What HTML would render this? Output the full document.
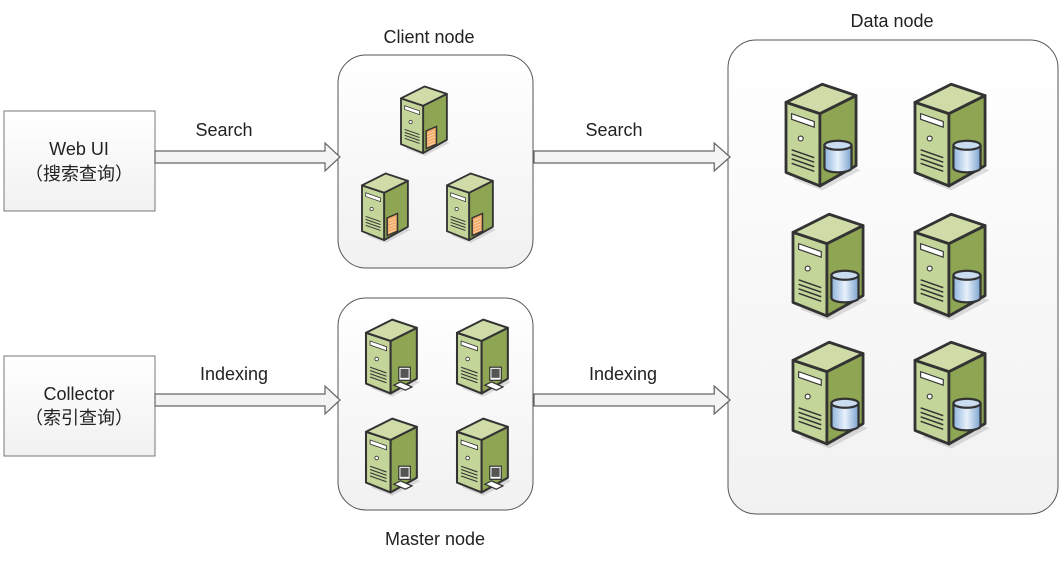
<!DOCTYPE html>
<html><head><meta charset="utf-8"><style>
html,body{margin:0;padding:0;background:#fff;}
svg{display:block;}
text{font-family:"Liberation Sans","Noto Sans CJK SC",sans-serif;font-size:18px;fill:#222;}
</style></head><body>
<svg width="1064" height="567" viewBox="0 0 1064 567" xmlns="http://www.w3.org/2000/svg">
<defs>
<linearGradient id="bg" x1="0" y1="0" x2="0" y2="1"><stop offset="0" stop-color="#ffffff"/><stop offset="1" stop-color="#f1f1f1"/></linearGradient>
<linearGradient id="cyl" x1="0" y1="0" x2="1" y2="0"><stop offset="0" stop-color="#8fb4dc"/><stop offset="0.5" stop-color="#e8f1fb"/><stop offset="1" stop-color="#7aa3cf"/></linearGradient>
<g id="srv">
<polygon points="6,86 32,96 66,78 40,68" fill="#000" opacity="0.12"/>
<polygon points="0,18 30,28 30,92 0,80" fill="#c4d59a" stroke="#333" stroke-width="2.5" stroke-linejoin="round"/>
<polygon points="30,28 62,12 62,74 30,92" fill="#8ea653" stroke="#333" stroke-width="2.5" stroke-linejoin="round"/>
<polygon points="0,18 32,2 62,12 30,28" fill="#cfdca8" stroke="#333" stroke-width="2.5" stroke-linejoin="round"/>
<polygon points="5,28 25,35 25,40 5,33" fill="#fff" stroke="#333" stroke-width="1"/>
<circle cx="13" cy="50" r="2.2" fill="#fff" stroke="#333"/>
<path d="M5,60 L25,67 M5,64 L25,71 M5,68 L25,75 M5,72 L25,79" stroke="#333" stroke-width="1.3"/>
</g>
<g id="db">
<path d="M0,4 L0,24 A12,4 0 0 0 24,24 L24,4" fill="url(#cyl)" stroke="#333" stroke-width="2"/>
<ellipse cx="12" cy="4" rx="12" ry="4" fill="#c9dcf0" stroke="#333" stroke-width="2"/>
</g>
<g id="fw">
<polygon points="0,6 14,0 14,24 0,30" fill="#f5a864" stroke="#333" stroke-width="2"/>
<path d="M2,10 L12,6 M2,14 L12,10 M2,18 L12,14 M2,22 L12,18 M2,26 L12,22" stroke="#fbd9b5" stroke-width="1.2"/>
</g>
<g id="pc">
<polygon points="0,26 14,32 22,28 8,22" fill="#fff" stroke="#333" stroke-width="1.5"/>
<rect x="6" y="4" width="14" height="16" fill="#fff" stroke="#333" stroke-width="1.5"/>
<rect x="8" y="6" width="10" height="11" fill="#555"/>
</g>
<g id="arr">
<polygon points="0,-6 170,-6 170,-14 185,0 170,14 170,6 0,6" fill="#f4f4f4" stroke="#666" stroke-width="1.2"/>
</g>
</defs>

<rect x="4" y="111" width="151" height="100" fill="url(#bg)" stroke="#777"/>
<text x="79" y="155" text-anchor="middle">Web UI</text>
<text x="79" y="180" text-anchor="middle">（搜索查询）</text>
<rect x="4" y="356" width="151" height="100" fill="url(#bg)" stroke="#777"/>
<text x="79" y="400" text-anchor="middle">Collector</text>
<text x="79" y="424" text-anchor="middle">（索引查询）</text>

<rect x="338" y="55" width="195" height="213" rx="28" fill="url(#bg)" stroke="#555"/>
<rect x="338" y="298" width="195" height="212" rx="28" fill="url(#bg)" stroke="#555"/>
<rect x="728" y="40" width="330" height="474" rx="28" fill="url(#bg)" stroke="#555"/>
<text x="429" y="43" text-anchor="middle">Client node</text>
<text x="435" y="545" text-anchor="middle">Master node</text>
<text x="892" y="27" text-anchor="middle">Data node</text>

<use href="#arr" transform="translate(155,157)"/>
<use href="#arr" transform="translate(155,400)"/>
<use href="#arr" transform="translate(534,157) scale(1.06,1)"/>
<use href="#arr" transform="translate(534,400) scale(1.06,1)"/>
<text x="224" y="136" text-anchor="middle">Search</text>
<text x="234" y="380" text-anchor="middle">Indexing</text>
<text x="614" y="136" text-anchor="middle">Search</text>
<text x="623" y="380" text-anchor="middle">Indexing</text>

<g transform="translate(401,85) scale(0.74)"><use href="#srv"/><use href="#fw" x="34" y="56"/></g>
<g transform="translate(362,172) scale(0.74)"><use href="#srv"/><use href="#fw" x="34" y="56"/></g>
<g transform="translate(447,172) scale(0.74)"><use href="#srv"/><use href="#fw" x="34" y="56"/></g>

<g transform="translate(366,318) scale(0.82)"><use href="#srv"/><use href="#pc" x="34" y="56"/></g>
<g transform="translate(457,318) scale(0.82)"><use href="#srv"/><use href="#pc" x="34" y="56"/></g>
<g transform="translate(366,417) scale(0.82)"><use href="#srv"/><use href="#pc" x="34" y="56"/></g>
<g transform="translate(457,417) scale(0.82)"><use href="#srv"/><use href="#pc" x="34" y="56"/></g>

<g transform="translate(786,82) scale(1.13)"><use href="#srv"/><use href="#db" x="34" y="52"/></g>
<g transform="translate(915,82) scale(1.13)"><use href="#srv"/><use href="#db" x="34" y="52"/></g>
<g transform="translate(793,212) scale(1.13)"><use href="#srv"/><use href="#db" x="34" y="52"/></g>
<g transform="translate(915,212) scale(1.13)"><use href="#srv"/><use href="#db" x="34" y="52"/></g>
<g transform="translate(793,340) scale(1.13)"><use href="#srv"/><use href="#db" x="34" y="52"/></g>
<g transform="translate(915,340) scale(1.13)"><use href="#srv"/><use href="#db" x="34" y="52"/></g>
</svg>
</body></html>
